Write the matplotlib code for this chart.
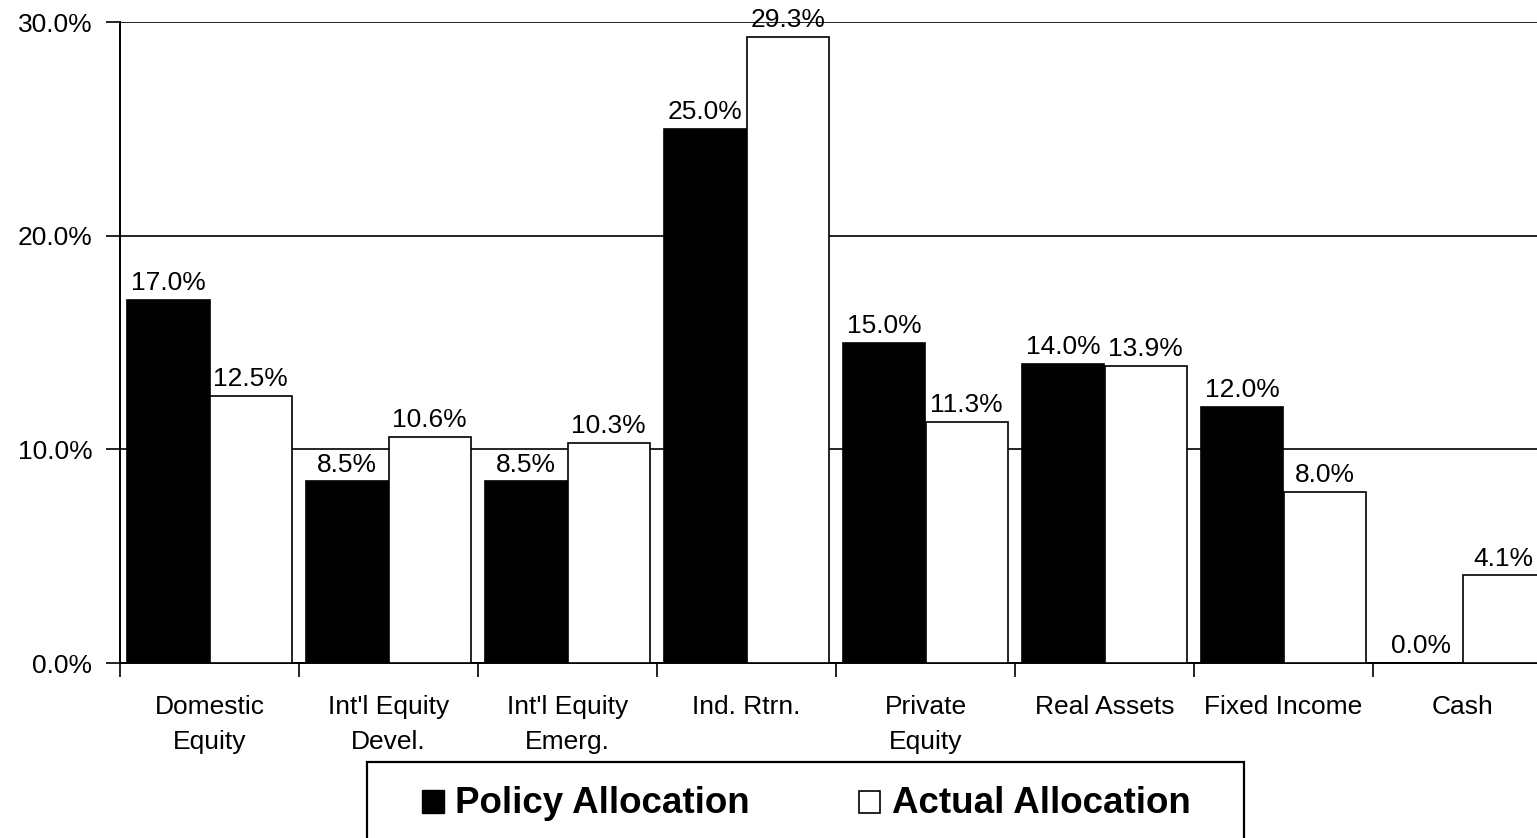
import matplotlib
matplotlib.use("Agg")
import matplotlib.pyplot as plt
from matplotlib.patches import Rectangle
import numpy as np

plt.rcParams['font.family'] = ['Liberation Sans', 'DejaVu Sans']

categories = ["Domestic\nEquity", "Int'l Equity\nDevel.", "Int'l Equity\nEmerg.", "Ind. Rtrn.",
              "Private\nEquity", "Real Assets", "Fixed Income", "Cash"]
policy = [17.0, 8.5, 8.5, 25.0, 15.0, 14.0, 12.0, 0.0]
actual = [12.5, 10.6, 10.3, 29.3, 11.3, 13.9, 8.0, 4.1]
yticks = [0, 10, 20, 30]
series_names = ["Policy Allocation", "Actual Allocation"]

W, H = 1537, 838
fig = plt.figure(figsize=(W / 100, H / 100), dpi=100)

# axes in pixel terms: left 120, right 1552 (runs past the figure edge), top 22, bottom 663
x0, x1, y0, y1 = 120, 1552, 663, 22
ax = fig.add_axes([x0 / W, 1 - y0 / H, (x1 - x0) / W, (y0 - y1) / H])

n = len(categories)
idx = np.arange(n)
bw = 0.46
ax.bar(idx + 0.5 - bw / 2, policy, width=bw, color='black', edgecolor='black', linewidth=1.2, zorder=3)
ax.bar(idx + 0.5 + bw / 2, actual, width=bw, color='white', edgecolor='black', linewidth=1.2, zorder=3)

fs = 19
for i in range(n):
    ax.text(i + 0.5 - bw / 2, policy[i] + 0.22, f"{policy[i]:.1f}%", ha='center', va='bottom',
            fontsize=fs, zorder=4)
    ax.text(i + 0.5 + bw / 2, actual[i] + 0.22, f"{actual[i]:.1f}%", ha='center', va='bottom',
            fontsize=fs, zorder=4)

ax.set_xlim(0, n)
ax.set_ylim(0, 30)
ax.set_yticks(yticks)
ax.set_yticklabels([f"{v:.1f}%" for v in yticks], fontsize=fs)
ax.yaxis.grid(True, color='black', linewidth=1.2, zorder=1)
ax.set_axisbelow(True)

# group boundary ticks, with category names centred between them
ax.set_xticks(np.arange(n + 1))
ax.set_xticklabels([])
ax.set_xticks(idx + 0.5, minor=True)
ax.set_xticklabels(categories, minor=True, fontsize=fs, linespacing=1.6)
ax.tick_params(axis='x', which='minor', length=0, pad=23)
ax.tick_params(axis='x', which='major', length=10, width=1.2, direction='out')
ax.tick_params(axis='y', length=10, width=1.2, direction='out', pad=10)

for s in ['top', 'right']:
    ax.spines[s].set_visible(False)
for s in ['left', 'bottom']:
    ax.spines[s].set_linewidth(1.4)

# legend box along the bottom
def fx(px):
    return px / W

def fy(py):
    return 1 - py / H

fig.patches.append(Rectangle((fx(367), fy(850)), fx(1244) - fx(367), fy(762) - fy(850),
                             transform=fig.transFigure, facecolor='white', edgecolor='black',
                             linewidth=1.6))
fig.patches.append(Rectangle((fx(422), fy(813)), fx(444) - fx(422), fy(790) - fy(813),
                             transform=fig.transFigure, facecolor='black', edgecolor='black',
                             linewidth=1.0))
fig.patches.append(Rectangle((fx(859), fy(813)), fx(880) - fx(859), fy(791) - fy(813),
                             transform=fig.transFigure, facecolor='white', edgecolor='black',
                             linewidth=1.2))
fig.text(fx(455), fy(803), series_names[0], fontsize=26.5, fontweight='bold', va='center', ha='left')
fig.text(fx(892), fy(803), series_names[1], fontsize=26.5, fontweight='bold', va='center', ha='left')

fig.savefig("out.png", dpi=100, facecolor='white')
